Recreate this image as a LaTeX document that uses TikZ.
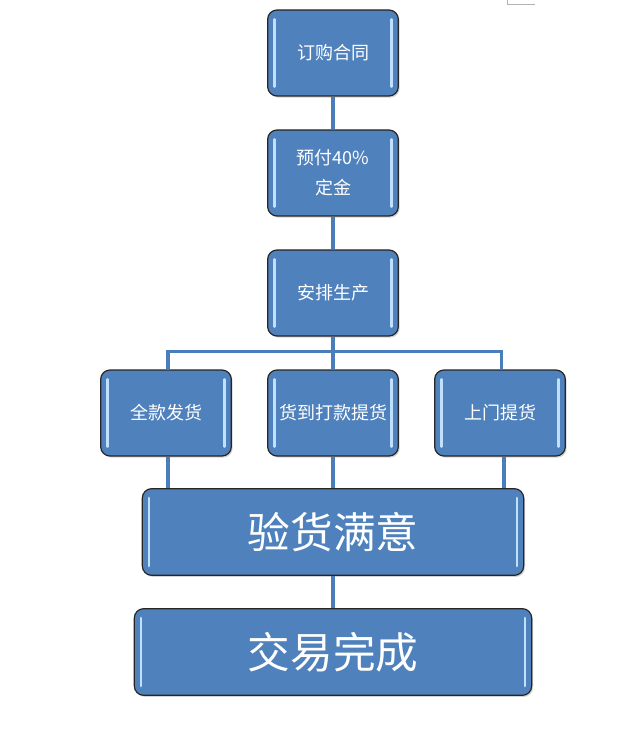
\documentclass[tikz,border=0pt]{standalone}
\usepackage{fontspec}
\newfontfamily\cjk{Noto Sans CJK SC}
\usetikzlibrary{shadows}
\definecolor{boxblue}{HTML}{4F81BD}
\definecolor{linkblue}{HTML}{4A7EBB}
\definecolor{hilite}{HTML}{BFE0FF}
\tikzset{
  x=0.75pt, y=-0.75pt,
  box/.style={draw=black!85, line width=0.9pt, fill=boxblue, rounded corners=7pt,
    text=white, align=center, font=\cjk\fontsize{13.5}{22.5}\selectfont,
    drop shadow={shadow xshift=1pt, shadow yshift=-1.2pt, opacity=0.35},
    path picture={
      \draw[hilite, line width=1.9pt, line cap=round]
        ([xshift=5pt,yshift=-7pt]path picture bounding box.north west) --
        ([xshift=5pt,yshift=7pt]path picture bounding box.south west);
      \draw[hilite, line width=1.9pt, line cap=round]
        ([xshift=-5pt,yshift=-7pt]path picture bounding box.north east) --
        ([xshift=-5pt,yshift=7pt]path picture bounding box.south east);
    }},
  smallbox/.style={box, minimum width=98pt, minimum height=64.5pt, inner sep=0pt},
  bigbox/.style={box, minimum height=65pt, inner sep=0pt, font=\cjk\fontsize{32}{38}\selectfont},
  conn/.style={draw=linkblue, line width=2.4pt}
}
\begin{document}
\begin{tikzpicture}
\useasboundingbox (0,0) rectangle (642,755);
\draw[gray!60, line width=0.6pt] (507,0) -- (507,4) -- (535,4);
\node[smallbox] (b1) at (333,53) {订购合同};
\node[smallbox] (b2) at (333,173) {预付40\%\\定金};
\node[smallbox] (b3) at (333,293) {安排生产};
\node[smallbox] (b4) at (166,413) {全款发货};
\node[smallbox] (b5) at (333,413) {货到打款提货};
\node[smallbox] (b6) at (500,413) {上门提货};
\node[bigbox, minimum width=286pt] (b7) at (333,532) {验货满意};
\node[bigbox, minimum width=298pt] (b8) at (333,652) {交易完成};
\draw[conn] (b1.south) -- (b2.north);
\draw[conn] (b2.south) -- (b3.north);
\draw[conn] (b3.south) -- (b5.north);
\draw[conn] ([xshift=1.5pt]b4.north) -- ++(0,-18) -| ([xshift=1pt]b6.north);
\draw[conn] ([xshift=1.5pt]b4.south) -- ([xshift=1.5pt]b4.south |- b7.north);
\draw[conn] (b5.south) -- (b5.south |- b7.north);
\draw[conn] ([xshift=3pt]b6.south) -- ([xshift=3pt]b6.south |- b7.north);
\draw[conn] (b7.south) -- (b8.north);
\end{tikzpicture}
\end{document}
